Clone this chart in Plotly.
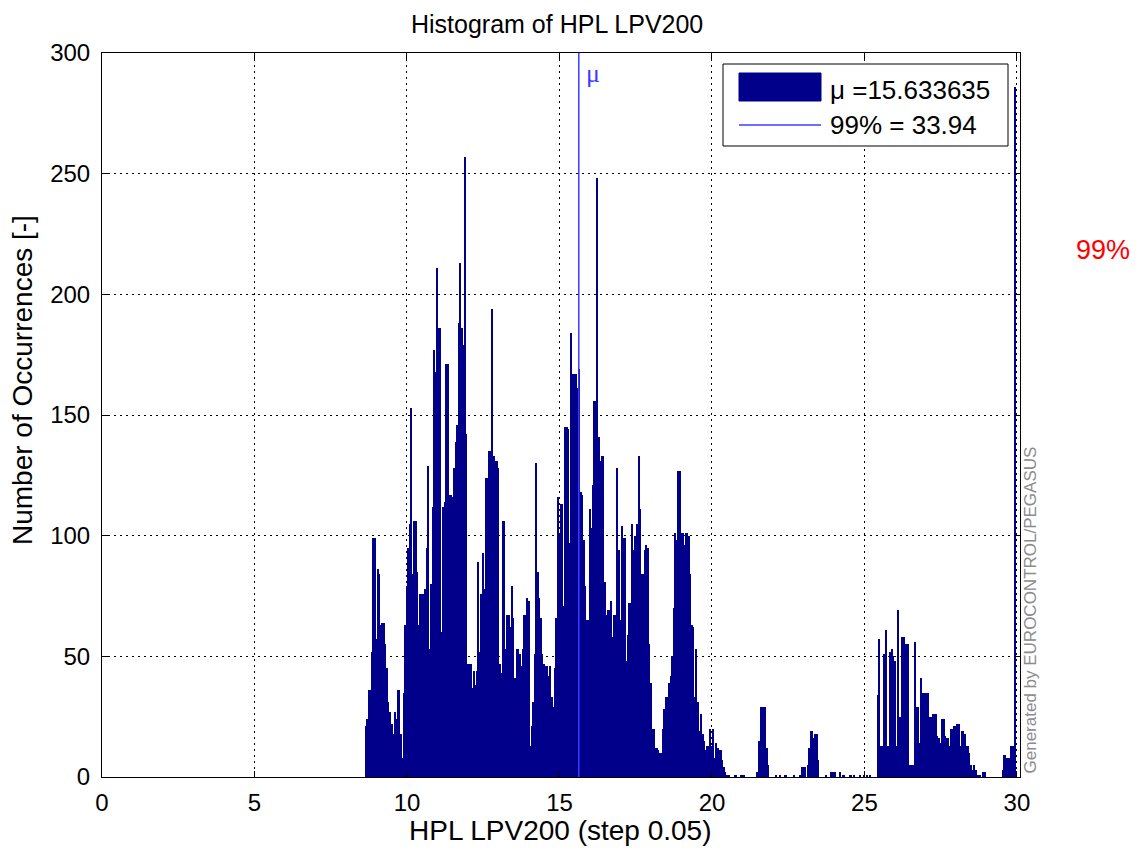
"""
Histogram of HPL LPV200 (step 0.05) with mean line, rebuilt in Plotly.
"""

import plotly.graph_objects as go

# histogram bins: first centre and bin width
BIN_START = 8.65
BIN_STEP = 0.05

# occurrences per 0.05 bin (8.65 ... 29.95)
counts = [
    21, 24, 36, 36, 52, 99, 99, 57, 86, 84, 63, 64, 64, 55, 45, 31, 27, 22, 18, 27,
    24, 36, 36, 18, 8, 35, 63, 79, 95, 105, 153, 84, 106, 106, 85, 63, 76, 76, 76, 78,
    95, 129, 53, 80, 112, 177, 168, 211, 186, 186, 60, 112, 114, 171, 171, 117, 117, 116, 128, 139,
    146, 188, 213, 186, 179, 257, 142, 47, 47, 47, 37, 44, 38, 44, 89, 52, 76, 93, 78, 124,
    124, 135, 135, 194, 133, 131, 131, 128, 47, 43, 106, 106, 53, 67, 67, 62, 79, 66, 41, 53,
    53, 51, 46, 53, 67, 67, 74, 73, 13, 21, 31, 51, 130, 85, 74, 66, 51, 47, 46, 46,
    42, 46, 33, 29, 45, 66, 116, 100, 113, 113, 71, 145, 145, 144, 97, 184, 167, 167, 167, 161,
    169, 118, 117, 98, 79, 65, 65, 111, 103, 121, 156, 156, 248, 141, 131, 133, 133, 81, 67, 69,
    69, 73, 58, 67, 67, 128, 94, 65, 104, 99, 99, 48, 59, 72, 72, 105, 94, 100, 105, 133,
    111, 84, 84, 94, 96, 95, 55, 39, 20, 20, 12, 12, 11, 10, 10, 20, 28, 33, 33, 39,
    42, 50, 70, 101, 98, 127, 127, 101, 101, 96, 101, 101, 100, 84, 63, 62, 33, 53, 31, 19,
    26, 18, 15, 11, 13, 13, 20, 13, 20, 8, 14, 12, 11, 11, 7, 4, 2, 1, 1, 0,
    0, 0, 1, 1, 0, 0, 1, 1, 1, 0, 0, 0, 0, 0, 0, 0, 0, 2, 15, 29,
    29, 29, 29, 12, 5, 0, 0, 0, 0, 1, 0, 0, 1, 0, 0, 1, 1, 0, 0, 0,
    0, 1, 0, 0, 0, 1, 4, 4, 4, 0, 5, 12, 19, 19, 16, 18, 18, 7, 0, 0,
    0, 0, 1, 0, 0, 2, 2, 2, 2, 0, 0, 2, 0, 1, 1, 0, 0, 0, 1, 0,
    1, 0, 0, 0, 1, 0, 0, 1, 0, 1, 0, 1, 0, 0, 0, 0, 34, 57, 13, 13,
    51, 61, 13, 13, 52, 53, 50, 48, 13, 69, 25, 25, 58, 58, 55, 55, 55, 5, 5, 5,
    56, 29, 29, 14, 41, 35, 35, 35, 35, 35, 25, 25, 26, 26, 26, 17, 16, 14, 24, 24,
    17, 16, 16, 13, 20, 20, 21, 21, 22, 22, 13, 19, 19, 18, 13, 13, 10, 5, 3, 5,
    3, 1, 1, 1, 0, 2, 2, 0, 0, 0, 0, 0, 0, 0, 0, 0, 0, 0, 3, 9,
    8, 8, 8, 13, 13, 13, 286,
]

mu_value = 15.633635
p99_value = 33.94

x_tick_vals = [0, 5, 10, 15, 20, 25, 30]
y_tick_vals = [0, 50, 100, 150, 200, 250, 300]

NAVY = '#00008B'
BLUE = '#3C3CFF'
FONT = 'Liberation Sans, Arial, sans-serif'

# the page body has an 8px margin, so the figure is drawn 8px in
PAGE_OFFSET = 8
FIG_W, FIG_H = 1141 - PAGE_OFFSET, 851 - PAGE_OFFSET

# plot area in screen pixels
L, R, T, B = 102, 1020, 53, 777


def fx(px):
    return (px - L) / (R - L)


def fy(py):
    return (B - py) / (B - T)


centers = [round(BIN_START + BIN_STEP * i, 3) for i in range(len(counts))]

fig = go.Figure()
fig.add_trace(go.Bar(
    x=centers, y=counts, width=BIN_STEP,
    marker=dict(color=NAVY, line=dict(width=0)),
    showlegend=False
))
fig.add_trace(go.Scatter(
    x=[mu_value, mu_value], y=[0, 300],
    mode='lines', line=dict(color=BLUE, width=1.5),
    showlegend=False
))

axis_common = dict(
    ticks='inside', ticklen=6, tickcolor='black',
    showline=True, linecolor='black', linewidth=1, mirror='ticks',
    showgrid=True, gridcolor='black', gridwidth=1, griddash='2px,4px',
    zeroline=False, tickfont=dict(family=FONT, size=24, color='black'),
)

fig.update_layout(
    width=FIG_W, height=FIG_H, autosize=False,
    margin=dict(l=L - PAGE_OFFSET, r=1141 - R, t=T - PAGE_OFFSET, b=851 - B),
    paper_bgcolor='white', plot_bgcolor='white',
    bargap=0, showlegend=False,
    font=dict(family=FONT, color='black'),
    xaxis=dict(range=[0, 30.1], tickvals=x_tick_vals, ticklabelstandoff=4,
               **axis_common),
    yaxis=dict(range=[0, 300], tickvals=y_tick_vals, ticklabelstandoff=6,
               **axis_common),
)

# hand-made legend box (matches the wide patch of the original)
fig.add_shape(type='rect', xref='paper', yref='paper',
              x0=fx(723), x1=fx(1008), y0=fy(146), y1=fy(64),
              fillcolor='white', line=dict(color='black', width=1))
fig.add_shape(type='rect', xref='paper', yref='paper',
              x0=fx(739), x1=fx(821), y0=fy(101), y1=fy(73),
              fillcolor=NAVY, line=dict(color=NAVY, width=1))
fig.add_shape(type='line', xref='paper', yref='paper',
              x0=fx(739), x1=fx(821), y0=fy(125), y1=fy(125),
              line=dict(color=BLUE, width=1.5))

annotations = [
    dict(text='\u03bc =%.6f' % mu_value, x=fx(828), y=fy(90),
         xanchor='left', yanchor='middle', font=dict(size=26)),
    dict(text='99%% = %.2f' % p99_value, x=fx(828), y=fy(125),
         xanchor='left', yanchor='middle', font=dict(size=26)),
    dict(text='Histogram of HPL LPV200', x=fx(557), y=fy(9),
         xanchor='center', yanchor='top', borderpad=0,
         font=dict(size=25)),
    dict(text='HPL LPV200 (step 0.05)', x=fx(560), y=fy(830),
         xanchor='center', yanchor='middle', font=dict(size=28)),
    dict(text='Number of Occurrences [-]', x=fx(22), y=fy(380),
         xanchor='center', yanchor='middle', textangle=-90,
         font=dict(size=28)),
    dict(text='\u03bc', x=fx(584), y=fy(73), xanchor='left',
         yanchor='middle',
         font=dict(family='Liberation Serif, serif', size=26, color=BLUE)),
    dict(text='99%', x=fx(1103), y=fy(250), xanchor='center',
         yanchor='middle', font=dict(size=27, color='red')),
    dict(text='Generated by EUROCONTROL/PEGASUS', x=fx(1030), y=fy(776),
         xanchor='center', yanchor='bottom', textangle=-90,
         font=dict(size=17, color='#8C8C8C')),
]
for a in annotations:
    a.update(xref='paper', yref='paper', showarrow=False)
    fig.add_annotation(**a)

fig.write_html('out.html')
